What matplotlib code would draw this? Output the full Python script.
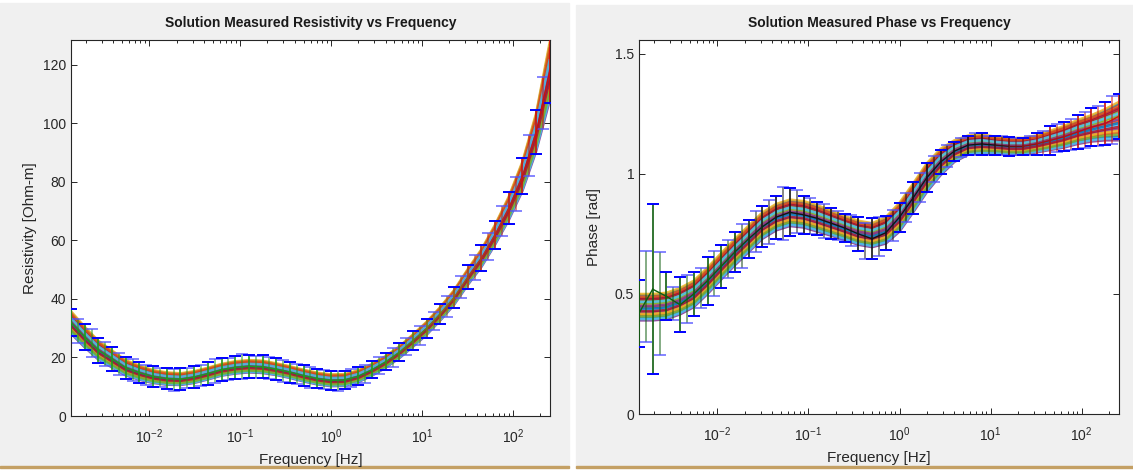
import numpy as np
import matplotlib
matplotlib.use("Agg")
import matplotlib.pyplot as plt
from matplotlib.colors import LinearSegmentedColormap
from matplotlib.patches import Rectangle
from matplotlib.ticker import LogLocator, FormatStrFormatter, NullFormatter

plt.rcParams["font.family"] = ["Liberation Sans", "DejaVu Sans"]
plt.rcParams["mathtext.default"] = "regular"

# measurement frequencies [Hz], two interleaved sets (half-octave steps)
freq_a = [0.00138, 0.00195, 0.00276, 0.0039, 0.0055, 0.0078, 0.011, 0.0156, 0.0221,
          0.03125, 0.0442, 0.0625, 0.0884, 0.125, 0.177, 0.25, 0.354, 0.5, 0.707, 1.0,
          1.41, 2.0, 2.83, 4.0, 5.66, 8.0, 11.3, 16.0, 22.6, 32.0, 45.3, 64.0, 90.5,
          128.0, 181.0, 256.0]
freq_b = [0.00164, 0.00232, 0.00328, 0.00464, 0.00657, 0.00929, 0.0131, 0.0186, 0.0263,
          0.0372, 0.0526, 0.0743, 0.105, 0.149, 0.210, 0.297, 0.420, 0.595, 0.841, 1.19,
          1.68, 2.38, 3.36, 4.76, 6.73, 9.51, 13.5, 19.0, 26.9, 38.1, 53.8, 76.1, 108.0,
          152.0, 215.0]

# resistivity [Ohm-m]
rho_a = [32.0, 27.0, 22.5, 19.5, 16.5, 14.8, 13.5, 12.8, 12.6, 13.3, 14.5, 15.8, 16.6,
         17.0, 16.8, 16.0, 15.0, 13.8, 12.8, 12.2, 12.3, 13.6, 15.8, 18.5, 21.8, 25.8,
         30.0, 35.0, 40.5, 47.5, 54.0, 62.0, 71.0, 82.0, 97.0, 118.0]
rho_b = [29.0, 24.8, 21.2, 17.8, 15.7, 14.0, 13.2, 12.4, 13.0, 13.7, 15.3, 16.1, 17.0,
         16.8, 16.5, 15.4, 14.5, 13.2, 12.5, 12.0, 12.9, 14.4, 17.2, 20.0, 23.9, 27.6,
         32.6, 37.4, 44.2, 50.8, 58.0, 66.5, 76.0, 89.0, 107.0]
rho_err_a = [4.5, 4.6, 4.3, 4.0, 3.8, 3.6, 3.6, 3.6, 3.7, 3.8, 3.9, 4.0, 4.0, 4.0, 3.9,
             3.8, 3.6, 3.5, 3.4, 3.3, 3.2, 3.0, 2.9, 2.9, 3.0, 3.1, 3.2, 3.4, 3.7, 4.0,
             4.4, 4.8, 5.4, 6.3, 7.5, 11.0]
rho_err_b = [4.2, 4.8, 4.0, 3.7, 3.9, 3.4, 3.3, 3.8, 3.5, 3.6, 4.1, 3.8, 4.2, 3.7, 3.7,
             3.9, 3.4, 3.6, 3.2, 3.4, 3.0, 3.1, 2.8, 3.1, 2.9, 3.3, 3.1, 3.6, 3.8, 4.2,
             4.6, 5.1, 5.8, 7.0, 9.0]
rho_spread = [3.8, 3.5, 3.2, 2.9, 2.6, 2.4, 2.2, 2.1, 2.0, 2.0, 2.0, 2.0, 2.1, 2.1, 2.1,
              2.0, 2.0, 2.0, 2.0, 2.0, 2.0, 2.0, 2.0, 2.0, 2.0, 2.1, 2.2, 2.3, 2.5, 2.7,
              3.0, 3.4, 4.0, 5.0, 6.5, 10.0]

# phase [rad]
ph_center = [0.445, 0.445, 0.45, 0.47, 0.50, 0.555, 0.615, 0.675, 0.73, 0.785, 0.82,
             0.838, 0.832, 0.815, 0.795, 0.775, 0.755, 0.745, 0.765, 0.82, 0.90, 0.985,
             1.05, 1.095, 1.12, 1.125, 1.12, 1.115, 1.115, 1.125, 1.14, 1.155, 1.175,
             1.19, 1.205, 1.22]
ph_spread = [0.055, 0.055, 0.055, 0.055, 0.055, 0.055, 0.055, 0.055, 0.055, 0.055,
             0.055, 0.055, 0.055, 0.055, 0.052, 0.05, 0.05, 0.05, 0.055, 0.06, 0.06,
             0.06, 0.055, 0.045, 0.04, 0.04, 0.035, 0.035, 0.035, 0.035, 0.04, 0.045,
             0.05, 0.055, 0.065, 0.08]
ph_a = [0.42, 0.52, 0.49, 0.455, 0.50, 0.555, 0.615, 0.675, 0.73, 0.78, 0.82, 0.84,
        0.83, 0.815, 0.795, 0.775, 0.75, 0.73, 0.755, 0.82, 0.90, 0.985, 1.05, 1.095,
        1.12, 1.125, 1.12, 1.115, 1.115, 1.125, 1.14, 1.155, 1.175, 1.195, 1.21, 1.24]
ph_b = [0.49, 0.46, 0.46, 0.48, 0.525, 0.585, 0.645, 0.70, 0.76, 0.80, 0.835, 0.845,
        0.825, 0.805, 0.785, 0.765, 0.72, 0.74, 0.785, 0.86, 0.945, 1.02, 1.075, 1.11,
        1.125, 1.12, 1.12, 1.115, 1.12, 1.13, 1.15, 1.165, 1.185, 1.20, 1.225]
ph_err_a = [0.14, 0.355, 0.10, 0.115, 0.09, 0.10, 0.09, 0.085, 0.08, 0.085, 0.09, 0.10,
            0.08, 0.07, 0.065, 0.06, 0.07, 0.085, 0.07, 0.06, 0.065, 0.06, 0.05, 0.04,
            0.04, 0.045, 0.04, 0.04, 0.035, 0.045, 0.06, 0.06, 0.07, 0.08, 0.09, 0.095]
ph_err_b = [0.19, 0.215, 0.07, 0.10, 0.085, 0.095, 0.08, 0.09, 0.085, 0.09, 0.11, 0.09,
            0.075, 0.07, 0.06, 0.065, 0.075, 0.08, 0.065, 0.06, 0.06, 0.055, 0.045, 0.04,
            0.045, 0.04, 0.04, 0.035, 0.04, 0.05, 0.06, 0.065, 0.075, 0.085, 0.10]

# draw order of the sample curves inside the band (fraction of spread)
band_fracs = [0.9, -0.6, 0.2, -1.0, 0.5, -0.2, 0.7, -0.8, 0.0, 1.0, -0.4, 0.3, -0.9,
              0.6, -0.1, 0.8, -0.5, 0.1, -0.7, 0.4, -0.3]
matlab_colors = ["#0072BD", "#D95319", "#EDB120", "#7E2F8E", "#77AC30", "#4DBEEE", "#A2142F"]

W, H = 1133, 470
fig = plt.figure(figsize=(W / 100, H / 100), dpi=100, facecolor="white")
# window backgrounds + bottom border of the two screenshots
for x0, x1, top in [(0, 569, 3), (576, 1133, 5)]:
    fig.add_artist(Rectangle((x0 / W, 4 / H), (x1 - x0) / W, (H - 4 - top) / H,
                             transform=fig.transFigure, color="#f0f0f0", zorder=-10))
    fig.add_artist(Rectangle((x0 / W, 2 / H), (x1 - x0) / W, 2 / H,
                             transform=fig.transFigure, color="#c4a064", zorder=-10))


def style_axes(ax, ylim, yticks):
    ax.set_xscale("log")
    ax.set_xlim(0.00138, 257)
    ax.set_ylim(*ylim)
    ax.set_yticks(yticks)
    ax.yaxis.set_major_formatter(FormatStrFormatter("%g"))
    ax.xaxis.set_major_locator(LogLocator(base=10, numticks=20))
    ax.xaxis.set_minor_locator(LogLocator(base=10, subs=np.arange(2, 10), numticks=20))
    ax.xaxis.set_minor_formatter(NullFormatter())
    ax.tick_params(which="both", direction="in", top=True, right=True, colors="#262626",
                   labelsize=10, width=0.7)
    ax.tick_params(which="major", length=4.5)
    ax.tick_params(which="minor", length=2.5)
    ax.tick_params(axis="x", pad=8)
    for s in ax.spines.values():
        s.set_color("#262626")
        s.set_linewidth(0.8)
    ax.set_xlabel("Frequency [Hz]", fontsize=11, color="#262626", labelpad=5)


def bar_colors(freqs, cmap, lo, hi):
    t = (np.log10(freqs) - lo) / (hi - lo)
    return [cmap(v) for v in t]


def draw_panel(ax, center, spread, m_a, e_a, m_b, e_b, cmap):
    fa, fb = np.array(freq_a), np.array(freq_b)
    center, spread = np.array(center), np.array(spread)
    for i, fr in enumerate(band_fracs):
        ax.plot(fa, center + fr * spread, color=matlab_colors[i % 7], lw=1.8,
                alpha=0.85, zorder=2, solid_capstyle="butt")
    lo_l, hi_l = np.log10(0.00138), np.log10(257)
    ca = bar_colors(fa, cmap, lo_l, hi_l)
    cb = bar_colors(fb, cmap, lo_l, hi_l)
    m_a, e_a, m_b, e_b = map(np.array, (m_a, e_a, m_b, e_b))
    # lighter set
    ax.vlines(fb, m_b - e_b, m_b + e_b, colors=cb, lw=1.3, alpha=0.55, zorder=3)
    ax.plot(fb, m_b - e_b, "_", color="#5050ff", ms=9, mew=1.4, alpha=0.7, zorder=3)
    ax.plot(fb, m_b + e_b, "_", color="#5050ff", ms=9, mew=1.4, alpha=0.7, zorder=3)
    # darker set
    ax.vlines(fa, m_a - e_a, m_a + e_a, colors=ca, lw=1.2, zorder=4)
    ax.plot(fa, m_a - e_a, "_", color="#0000ff", ms=9, mew=1.4, zorder=4)
    ax.plot(fa, m_a + e_a, "_", color="#0000ff", ms=9, mew=1.4, zorder=4)
    for i in range(len(fa) - 1):
        ax.plot(fa[i:i + 2], m_a[i:i + 2], color=ca[i], lw=1.0, zorder=4)


cmap_rho = LinearSegmentedColormap.from_list("rho", [
    (0.0, "#1e9a1e"), (0.62, "#1e9a1e"), (0.77, "#8a7412"), (0.86, "#b8301a"), (1.0, "#d00a0a")])
cmap_ph = LinearSegmentedColormap.from_list("ph", [
    (0.0, "#0e5e0e"), (0.17, "#0e5e0e"), (0.27, "#141414"), (0.72, "#141414"),
    (0.81, "#9e1410"), (1.0, "#d01010")])

ax1 = fig.add_axes([71 / W, 1 - 416 / H, 479 / W, 376 / H])
style_axes(ax1, (0, 128.5), [0, 20, 40, 60, 80, 100, 120])
draw_panel(ax1, rho_a, rho_spread, rho_a, rho_err_a, rho_b, rho_err_b, cmap_rho)
ax1.set_ylabel("Resistivity [Ohm-m]", fontsize=11, color="#262626", labelpad=4)
ax1.set_title("Solution Measured Resistivity vs Frequency", fontsize=10, fontweight="bold",
              color="#1a1a1a", pad=9)

ax2 = fig.add_axes([639 / W, 1 - 414 / H, 480 / W, 374 / H])
style_axes(ax2, (0, 1.558), [0, 0.5, 1, 1.5])
draw_panel(ax2, ph_center, ph_spread, ph_a, ph_err_a, ph_b, ph_err_b, cmap_ph)
ax2.set_ylabel("Phase [rad]", fontsize=11, color="#262626", labelpad=10)
ax2.set_title("Solution Measured Phase vs Frequency", fontsize=10, fontweight="bold",
              color="#1a1a1a", pad=9)

fig.savefig("out.png", dpi=100, facecolor=fig.get_facecolor())
